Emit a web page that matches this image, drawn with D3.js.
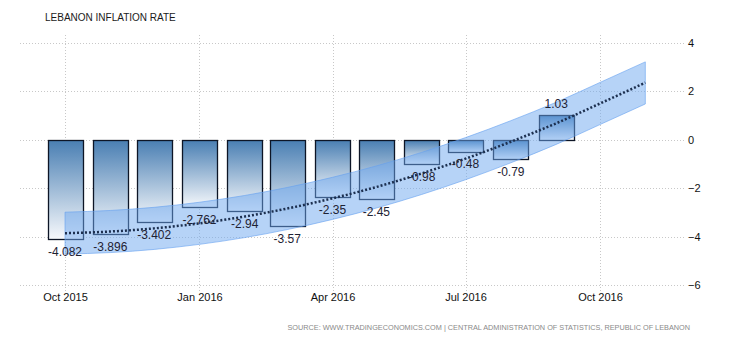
<!DOCTYPE html>
<html><head><meta charset="utf-8">
<script src="https://cdn.jsdelivr.net/npm/d3@7"></script>
<style>
body{margin:0;background:#fff;}
text{font-family:"Liberation Sans",Arial,sans-serif;}
</style></head>
<body>
<svg id="chart" width="730" height="340"></svg>
<script>
// ---- data ----
const months = ["2015-10","2015-11","2015-12","2016-01","2016-02","2016-03","2016-04","2016-05","2016-06","2016-07","2016-08","2016-09"];
const values = [-4.082,-3.896,-3.402,-2.762,-2.94,-3.57,-2.35,-2.45,-0.98,-0.48,-0.79,1.03];
const labels = ["-4.082","-3.896","-3.402","-2.762","-2.94","-3.57","-2.35","-2.45","-0.98","-0.48","-0.79","1.03"];
const trendMonths = ["2015-10","2015-11","2015-12","2016-01","2016-02","2016-03","2016-04","2016-05","2016-06","2016-07","2016-08","2016-09","2016-10","2016-11"];
const trend = [-3.86,-3.79,-3.66,-3.45,-3.17,-2.84,-2.42,-1.95,-1.39,-0.78,-0.08,0.68,1.50,2.36];
const trendUpper = [-2.99,-2.92,-2.79,-2.58,-2.30,-1.97,-1.55,-1.08,-0.52,0.09,0.79,1.55,2.37,3.22];
const trendLower = [-4.72,-4.66,-4.53,-4.32,-4.04,-3.71,-3.29,-2.82,-2.26,-1.65,-0.95,-0.19,0.63,1.48];
const xTicks = ["2015-10","2016-01","2016-04","2016-07","2016-10"];
const yTicks = [4,2,0,-2,-4,-6];
const title = "LEBANON INFLATION RATE";
const source = "SOURCE: WWW.TRADINGECONOMICS.COM | CENTRAL ADMINISTRATION OF STATISTICS, REPUBLIC OF LEBANON";

// ---- chart ----
const parse = d3.utcParse("%Y-%m");
const svg = d3.select("#chart");
const plotL = 20, plotR = 684, plotT = 43, plotB = 285;

const x = d3.scaleUtc().domain([parse("2015-10"), parse("2016-10")]).range([65, 600]);
const y = d3.scaleLinear().domain([-6, 4]).range([plotB, plotT]);

// gradient
const defs = svg.append("defs");
const grad = defs.append("linearGradient").attr("id","barGrad").attr("x1",0).attr("y1",0).attr("x2",0).attr("y2",1);
grad.append("stop").attr("offset","0%").attr("stop-color","#4a7fb3");
grad.append("stop").attr("offset","100%").attr("stop-color","#f7f9fc");

// grid
const grid = svg.append("g");
grid.selectAll("line.h").data(yTicks).join("line")
  .attr("x1", plotL).attr("x2", plotR)
  .attr("y1", d => Math.round(y(d)) + 0.5).attr("y2", d => Math.round(y(d)) + 0.5)
  .attr("stroke","#c8c8c8").attr("stroke-dasharray","1,2");
grid.selectAll("line.v").data(xTicks).join("line")
  .attr("x1", d => Math.round(x(parse(d))) + 0.5).attr("x2", d => Math.round(x(parse(d))) + 0.5)
  .attr("y1", 35).attr("y2", 291)
  .attr("stroke","#c8c8c8").attr("stroke-dasharray","1,2");

// bars
const bw = 35;
svg.append("g").selectAll("rect").data(values).join("rect")
  .attr("x", (d,i) => Math.round(x(parse(months[i])) - bw/2) + 0.5)
  .attr("y", d => Math.round(y(Math.max(0,d))) + 0.5)
  .attr("width", bw)
  .attr("height", d => Math.round(Math.abs(y(d) - y(0))))
  .attr("fill","url(#barGrad)")
  .attr("stroke","#0d1526").attr("stroke-width",1.3);

// band
const area = d3.area()
  .x((d,i) => x(parse(trendMonths[i])))
  .y0((d,i) => y(trendLower[i]))
  .y1((d,i) => y(trendUpper[i]))
  .curve(d3.curveMonotoneX);
svg.append("path").datum(trend).attr("d", area)
  .attr("fill","rgba(110,168,240,0.5)").attr("stroke","rgba(100,160,240,0.6)").attr("stroke-width",1);

// trend line
const line = d3.line()
  .x((d,i) => x(parse(trendMonths[i])))
  .y(d => y(d))
  .curve(d3.curveMonotoneX);
svg.append("path").datum(trend).attr("d", line)
  .attr("fill","none").attr("stroke","#1c2f4f").attr("stroke-width",2.5).attr("stroke-dasharray","2,2");

// value labels
svg.append("g").selectAll("text").data(values).join("text")
  .attr("x", (d,i) => x(parse(months[i])))
  .attr("y", d => d < 0 ? y(d) + 17 : y(d) - 7)
  .attr("text-anchor","middle")
  .attr("font-size", 12).attr("fill","#1e2233")
  .text((d,i) => labels[i]);

// x axis
const xAxis = d3.axisBottom(x).tickValues(xTicks.map(parse)).tickFormat(d3.utcFormat("%b %Y")).tickSize(0).tickPadding(0);
const gx = svg.append("g").attr("transform","translate(0,301)").call(xAxis);
gx.select(".domain").remove();
gx.selectAll("text").attr("font-size",11).attr("fill","#111").attr("dy","0").attr("font-family","'Liberation Sans',Arial,sans-serif");

// y axis
const yAxis = d3.axisRight(y).tickValues(yTicks).tickSize(0).tickPadding(4);
const gy = svg.append("g").attr("transform",`translate(${plotR},0)`).call(yAxis);
gy.select(".domain").remove();
gy.selectAll("text").attr("font-size",11).attr("fill","#111").attr("font-family","'Liberation Sans',Arial,sans-serif");

// title & source
svg.append("text").attr("x",45).attr("y",21).attr("font-size",10).attr("fill","#1a1a1a").text(title);
svg.append("text").attr("x",690).attr("y",330).attr("text-anchor","end").attr("font-size",7.3).attr("fill","#8a8a8a").text(source);
</script>
</body></html>
